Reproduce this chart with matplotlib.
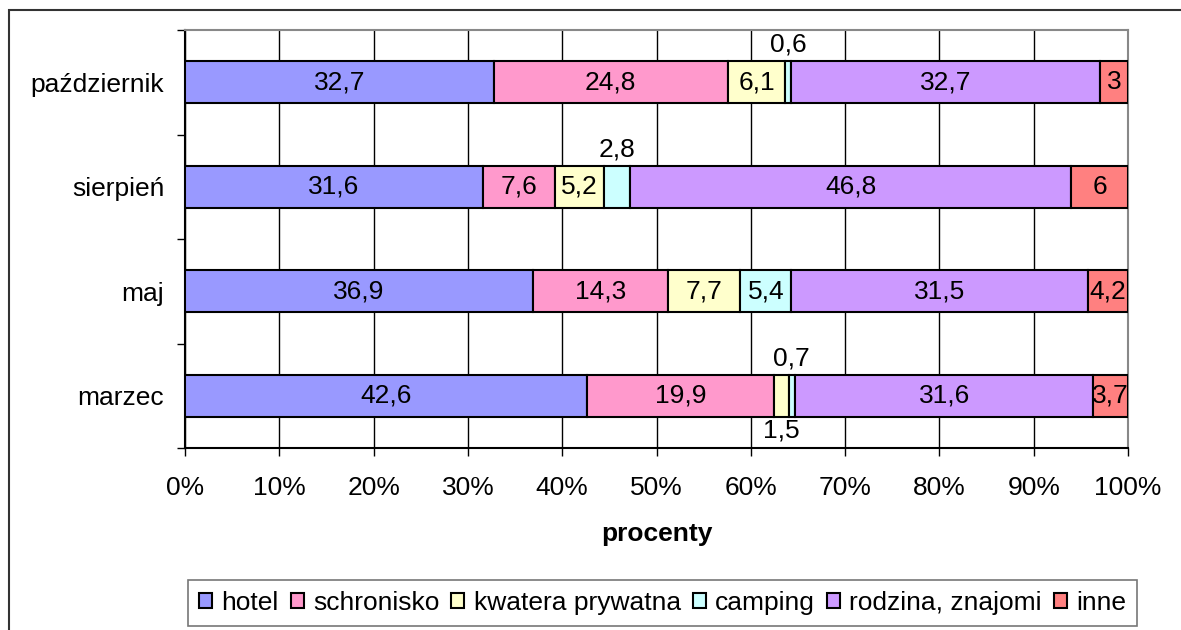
import numpy as np
import matplotlib
matplotlib.use('Agg')
import matplotlib.pyplot as plt
from matplotlib.patches import Rectangle
from matplotlib.ticker import FixedLocator, FuncFormatter

plt.rcParams['font.family'] = ['Liberation Sans', 'DejaVu Sans']

# dane (od dolu do gory)
months = ['marzec', 'maj', 'sierpień', 'październik']
series = ['hotel', 'schronisko', 'kwatera prywatna', 'camping', 'rodzina, znajomi', 'inne']
hotel = [42.6, 36.9, 31.6, 32.7]
schronisko = [19.9, 14.3, 7.6, 24.8]
kwatera = [1.5, 7.7, 5.2, 6.1]
camping = [0.7, 5.4, 2.8, 0.6]
rodzina = [31.6, 31.5, 46.8, 32.7]
inne = [3.7, 4.2, 6.0, 3.0]
colors = ['#9999FF', '#FF99CC', '#FFFFCC', '#CCFFFF', '#CC99FF', '#FF8080']

data = np.array([hotel, schronisko, kwatera, camping, rodzina, inne])
pct = data / data.sum(axis=0) * 100

FS = 19

fig = plt.figure(figsize=(11.81, 6.30), dpi=100)
ax = fig.add_axes([185/1181, 1-448/630, (1128-185)/1181, (448-30)/630])

y = np.arange(len(months))
h = 0.4
left = np.zeros(len(months))
for s in range(len(series)):
    ax.barh(y, pct[s], left=left, height=h, color=colors[s], edgecolor='black',
            linewidth=1.5, label=series[s], zorder=3)
    for i in range(len(months)):
        v = data[s, i]
        cx = left[i] + pct[s, i] / 2
        txt = ('%g' % v).replace('.', ',')
        if v < 1.0 or (s == 3 and v < 3):
            ax.text(cx, y[i] + h/2 + 0.16, txt, ha='center', va='center', fontsize=FS, zorder=4)
        elif v < 2.0:
            ax.text(cx, y[i] - h/2 - 0.13, txt, ha='center', va='center', fontsize=FS, zorder=4)
        else:
            ax.text(cx, y[i], txt, ha='center', va='center', fontsize=FS, zorder=4)
    left += pct[s]

ax.set_xlim(0, 100)
ax.set_ylim(-0.5, len(months) - 0.5)
ax.set_xticks(np.arange(0, 101, 10))
ax.xaxis.set_major_formatter(FuncFormatter(lambda v, p: '%d%%' % v))
ax.set_yticks(y)
ax.set_yticklabels(months)
ax.yaxis.set_minor_locator(FixedLocator(np.arange(-0.5, len(months), 1)))
ax.tick_params(axis='y', which='major', length=0, pad=15, labelsize=FS)
ax.tick_params(axis='y', which='minor', length=6, width=1, color='black')
ax.tick_params(axis='x', length=6, width=1, pad=14, labelsize=FS, color='black')
ax.grid(axis='x', color='black', linewidth=1, zorder=0)
ax.set_axisbelow(True)
for side in ['top', 'right']:
    ax.spines[side].set_color('#888888')
    ax.spines[side].set_linewidth(1.5)
for side in ['left', 'bottom']:
    ax.spines[side].set_color('black')
    ax.spines[side].set_linewidth(1.5)
ax.set_xlabel('procenty', fontsize=FS, fontweight='bold', labelpad=16)

handles = [Rectangle((0, 0), 1, 1, facecolor=c, edgecolor='black', linewidth=1.5) for c in colors]
leg = fig.legend(handles, series, loc='center', bbox_to_anchor=((190+1135)/2/1181, 1-603/630),
                 ncol=6, fontsize=FS, frameon=True, fancybox=False, handlelength=0.5,
                 handleheight=0.5, handletextpad=0.35, columnspacing=0.45, borderpad=0.4,
                 borderaxespad=0)
leg.get_frame().set_edgecolor('#555555')
leg.get_frame().set_linewidth(1.2)

# ramka wykresu
fig.patches.append(Rectangle((9/1181, -0.05), 1.1, 1-10/630+0.05, transform=fig.transFigure,
                             fill=False, edgecolor='#333333', linewidth=1.5))

fig.savefig('out.png', dpi=100)
